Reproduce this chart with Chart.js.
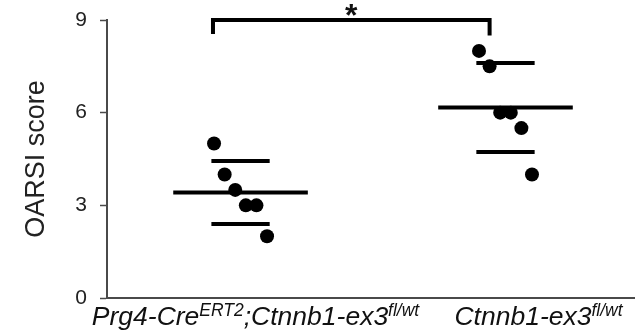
<!DOCTYPE html>
<html>
<head>
<meta charset="utf-8">
<script src="https://cdn.jsdelivr.net/npm/chart.js@4/dist/chart.umd.min.js"></script>
<style>
  html, body { margin: 0; padding: 0; background: #fff; }
  #wrap { width: 641px; height: 332px; }
</style>
</head>
<body>
<div id="wrap"><canvas id="c" width="641" height="332"></canvas></div>
<script>
// Genotype groups (x positions 1 and 2)
const groups = ['Prg4-CreERT2;Ctnnb1-ex3fl/wt', 'Ctnnb1-ex3fl/wt'];
// OARSI scores per animal
const creScores = [5, 4, 3.5, 3, 3, 2];
const ctrlScores = [8, 7.5, 6, 6, 5.5, 4];
// y axis tick values
const yTicks = [0, 3, 6, 9];
// significance marker between the two groups
const sigLabel = '*';

// label pieces: [text, isSuperscript]
const labelParts = [
  [['Prg4-Cre', false], ['ERT2', true], [';Ctnnb1-ex3', false], ['fl/wt', true]],
  [['Ctnnb1-ex3', false], ['fl/wt', true]]
];

// horizontal spread of the dots within a group (x units)
const jitter = [-0.1, -0.06, -0.02, 0.02, 0.06, 0.1];
const meanHalf = 0.254, sdHalf = 0.11;

function mean(a) { return a.reduce((s, v) => s + v, 0) / a.length; }
function sd(a) {
  const m = mean(a);
  return Math.sqrt(a.reduce((s, v) => s + (v - m) * (v - m), 0) / (a.length - 1));
}

const allScores = [creScores, ctrlScores];
const datasets = [];

allScores.forEach((vals, gi) => {
  const cx = gi + 1;
  datasets.push({
    type: 'scatter',
    data: vals.map((v, i) => ({ x: cx + jitter[i], y: v })),
    pointRadius: 7,
    pointBackgroundColor: '#000',
    pointBorderWidth: 0,
    order: 0
  });
  const m = mean(vals), s = sd(vals);
  [[m, meanHalf], [m + s, sdHalf], [m - s, sdHalf]].forEach(([y, h]) => {
    datasets.push({
      type: 'line',
      data: [{ x: cx - h, y: y }, { x: cx + h, y: y }],
      borderColor: '#000',
      borderWidth: 4,
      pointRadius: 0,
      borderCapStyle: 'butt',
      order: 1
    });
  });
});

// significance bracket
const bracketLeft = 1 - 0.104, bracketRight = 2 - 0.06;
datasets.push({
  type: 'line',
  data: [
    { x: bracketLeft, y: 8.55 }, { x: bracketLeft, y: 9 },
    { x: bracketRight, y: 9 }, { x: bracketRight, y: 8.5 }
  ],
  borderColor: '#000',
  borderWidth: 4,
  pointRadius: 0,
  borderCapStyle: 'butt',
  borderJoinStyle: 'miter',
  tension: 0,
  clip: false,
  order: 1
});

const labelOffsets = [15, 33];

const annotate = {
  id: 'annotate',
  afterDraw(chart) {
    const ctx = chart.ctx;
    const xs = chart.scales.x, ys = chart.scales.y;
    ctx.save();
    ctx.fillStyle = '#111';
    ctx.textBaseline = 'alphabetic';
    ctx.textAlign = 'left';
    const mainFont = 'italic 26.5px "Liberation Sans", Arial, sans-serif';
    const supFont = 'italic 17.5px "Liberation Sans", Arial, sans-serif';
    const baseY = 325;
    labelParts.forEach((parts, gi) => {
      let w = 0;
      parts.forEach(([t, sup]) => { ctx.font = sup ? supFont : mainFont; w += ctx.measureText(t).width; });
      let x = xs.getPixelForValue(gi + 1) + labelOffsets[gi] - w / 2;
      parts.forEach(([t, sup]) => {
        ctx.font = sup ? supFont : mainFont;
        ctx.fillText(t, x, sup ? baseY - 9 : baseY);
        x += ctx.measureText(t).width;
      });
    });
    // asterisk over the bracket
    ctx.font = 'bold 32px "Liberation Sans", Arial, sans-serif';
    ctx.textAlign = 'center';
    const m = ctx.measureText(sigLabel);
    const cy = ys.getPixelForValue(9) - 10;
    const bx = (xs.getPixelForValue(bracketLeft) + xs.getPixelForValue(bracketRight)) / 2;
    const by = cy - (m.actualBoundingBoxDescent - m.actualBoundingBoxAscent) / 2;
    ctx.fillText(sigLabel, bx, by);
    ctx.restore();
  }
};

new Chart(document.getElementById('c'), {
  data: { datasets },
  options: {
    responsive: false,
    animation: false,
    layout: { padding: { top: 20, right: 1, left: 0, bottom: 0 } },
    plugins: { legend: { display: false }, tooltip: { enabled: false } },
    scales: {
      x: {
        type: 'linear',
        min: 0.496,
        max: 2.485,
        grid: { display: false, drawTicks: false },
        ticks: { display: false },
        border: { display: true, color: '#4a4a4a', width: 2 },
        afterFit(scale) { scale.height = 34; }
      },
      y: {
        type: 'linear',
        min: 0,
        max: 9,
        afterBuildTicks(scale) { scale.ticks = yTicks.map(v => ({ value: v })); },
        grid: { drawOnChartArea: false, drawTicks: true, tickLength: 7, tickColor: '#4a4a4a', tickWidth: 1.5 },
        border: { display: true, color: '#4a4a4a', width: 2 },
        ticks: {
          color: '#222',
          padding: 13,
          font: { family: '"Liberation Sans", Arial, sans-serif', size: 21, lineHeight: 0.6 }
        },
        title: {
          display: true,
          text: 'OARSI score',
          color: '#222',
          font: { family: '"Liberation Sans", Arial, sans-serif', size: 27, lineHeight: 1.2 },
          padding: { top: 20, bottom: 0 }
        },
        afterFit(scale) { scale.width = 107; }
      }
    }
  },
  plugins: [annotate]
});
</script>
</body>
</html>
